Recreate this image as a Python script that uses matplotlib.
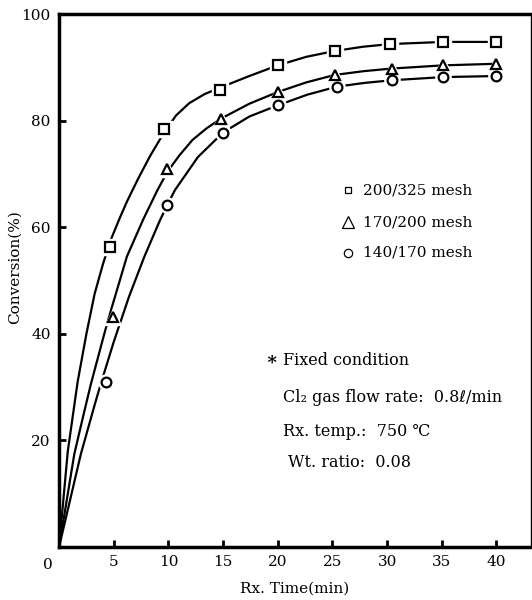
import numpy as np
import matplotlib
matplotlib.use("Agg")
import matplotlib.pyplot as plt

plt.rcParams['font.family'] = ['DejaVu Serif', 'DejaVu Sans']

# measured points
x_sq = [4.7, 9.6, 14.7, 20, 25.2, 30.3, 35.1, 40]
y_sq = [56.3, 78.4, 85.8, 90.4, 93.1, 94.4, 94.8, 94.8]
x_tri = [4.9, 9.9, 14.8, 20, 25.2, 30.4, 35.1, 40]
y_tri = [43.2, 71.0, 80.4, 85.4, 88.6, 89.8, 90.4, 90.7]
x_cir = [4.3, 9.9, 15, 20, 25.4, 30.4, 35.1, 40]
y_cir = [31, 64.2, 77.8, 82.9, 86.4, 87.6, 88.2, 88.4]

# hand drawn curves
cx_sq = [0, 0.8, 1.7, 2.5, 3.25, 4.0, 4.7, 5.5, 6.2, 7.2, 8.3, 9.6, 10.7, 11.9, 13.3, 14.7, 17.4, 20,
         22.6, 25.2, 27.8, 30.3, 35.1, 40]
cy_sq = [0, 18, 31, 40, 47.5, 53, 57.5, 61.5, 64.8, 69, 73.3, 77.8, 81, 83.3, 85, 86.2, 88.4, 90.4,
         92, 93.1, 93.9, 94.4, 94.8, 94.8]
cx_tri = [0, 1.4, 2.2, 2.9, 4.2, 4.8, 6.2, 7.7, 9.0, 9.9, 11, 12.2, 13.5, 14.8, 17.4, 20,
          22.6, 25.2, 27.8, 30.4, 35.1, 40]
cy_tri = [0, 17.5, 24.5, 30.5, 40.5, 44.8, 54.5, 61.5, 67, 70.4, 73.5, 76.4, 78.6, 80.4, 83.2, 85.4,
          87.2, 88.6, 89.3, 89.8, 90.4, 90.7]
cx_cir = [0, 2.0, 3.3, 3.8, 5.0, 6.4, 7.8, 9.2, 9.9, 10.6, 12.7, 15, 17.4, 20,
          22.7, 25.4, 27.9, 30.4, 35.1, 40]
cy_cir = [0, 17.5, 27, 30.5, 38.5, 47, 54.5, 61.2, 64.2, 67, 73.2, 77.8, 80.8, 82.9,
          84.9, 86.4, 87.1, 87.6, 88.2, 88.4]

labels = ['200/325 mesh', '170/200 mesh', '140/170 mesh']
xticks = [5, 10, 15, 20, 25, 30, 35, 40]
yticks = [20, 40, 60, 80, 100]

fig = plt.figure(figsize=(5.32, 6.0), dpi=100)
ax = fig.add_axes([0.111, 0.0883, 0.887, 0.888])

series = [(cx_sq, cy_sq, x_sq, y_sq, 's', 7),
          (cx_tri, cy_tri, x_tri, y_tri, '^', 7.5),
          (cx_cir, cy_cir, x_cir, y_cir, 'o', 7)]
for cx, cy, mx, my, mk, ms in series:
    ax.plot(cx, cy, color='black', lw=1.6, zorder=2, solid_joinstyle='round')
    # white halo so the line stops short of the marker
    ax.plot(mx, my, ls='none', marker=mk, ms=ms + 4, mfc='white', mec='white', zorder=3)
    ax.plot(mx, my, ls='none', marker=mk, ms=ms, mfc='white', mec='black', mew=1.6, zorder=4)

ax.set_xlim(0, 43.15)
ax.set_ylim(0, 100)
ax.set_xticks(xticks)
ax.set_yticks(yticks)
ax.tick_params(direction='in', length=5, width=2, labelsize=11, pad=6)
for side in ['left', 'bottom', 'top']:
    ax.spines[side].set_linewidth(2.5)
ax.spines['right'].set_linewidth(1.0)
ax.annotate('0', xy=(0, 0), xytext=(-8, -8), textcoords='offset points',
            ha='center', va='top', fontsize=11)

ax.set_xlabel('Rx. Time(min)', fontsize=11, labelpad=9)
ax.set_ylabel('Conversion(%)', fontsize=11)
ax.yaxis.set_label_coords(-0.078, 0.525)

# legend
leg_y = [67.0, 61.0, 55.2]
leg_mk = [('s', 5), ('^', 8), ('o', 6)]
for (mk, ms), yy, lab in zip(leg_mk, leg_y, labels):
    ax.plot([26.4], [yy], marker=mk, ms=ms, mfc='white', mec='black', mew=0.9, ls='none')
    ax.text(27.8, yy, lab, fontsize=11, va='center', ha='left')

ax.text(19.4, 35.1, '∗', fontsize=13, fontweight='bold', va='center', ha='center')
ax.text(20.5, 35.1, 'Fixed condition', fontsize=11.5, va='center', ha='left')
ax.text(20.5, 28.1, 'Cl₂ gas flow rate:  0.8ℓ/min', fontsize=11.5, va='center', ha='left')
ax.text(20.5, 21.6, 'Rx. temp.:  750 ℃', fontsize=11.5, va='center', ha='left')
ax.text(20.9, 15.8, 'Wt. ratio:  0.08', fontsize=11.5, va='center', ha='left')

fig.savefig('out.png', dpi=100)
